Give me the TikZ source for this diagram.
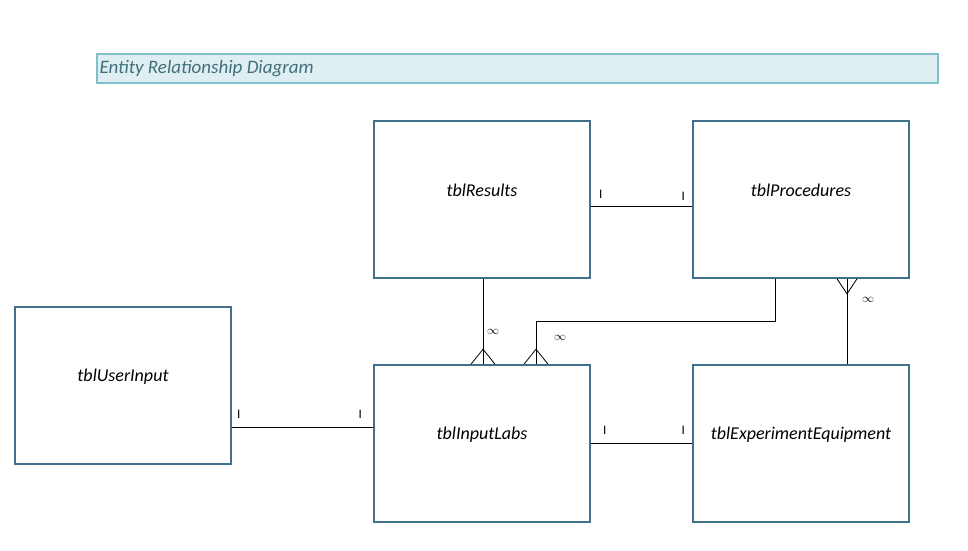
\documentclass[tikz,border=0pt]{standalone}
\usepackage{fontspec}
\setmainfont{Carlito}
\usetikzlibrary{positioning,calc}
\usepackage{xcolor}
\definecolor{entityblue}{RGB}{65,112,140}
\definecolor{titlefill}{RGB}{222,238,242}
\definecolor{titleline}{RGB}{127,192,203}
\definecolor{titletext}{RGB}{65,112,122}

\begin{document}
\begin{tikzpicture}[
    x=1pt, y=-1pt,
    entity/.style={rectangle, draw=entityblue, line width=1.6pt, minimum width=216pt, minimum height=157pt, inner sep=0pt},
    entlabel/.style={font=\fontsize{18}{21}\selectfont\itshape},
    conn/.style={black, line width=0.8pt},
    onemark/.style={font=\fontsize{13}{15}\selectfont, inner sep=0pt},
    manymark/.style={font=\fontsize{12.5}{14}\selectfont, inner sep=0pt}
]
\useasboundingbox (0,0) rectangle (968,550);

% Title bar
\node (title) [rectangle, draw=titleline, fill=titlefill, line width=1.4pt, minimum width=841pt, minimum height=29pt, inner sep=0pt] at (517.5,68.5) {};
\node[anchor=west, text=titletext, font=\fontsize{19}{22}\selectfont\itshape, inner sep=0pt] at ($(title.west)+(3,0)$) {Entity Relationship Diagram};

% Entities
\node (results) [entity] at (482,199.5) {};
\node[entlabel] at ($(results.center)+(0,-9)$) {tblResults};
\node (procedures) [entity] at (801,199.5) {};
\node[entlabel] at ($(procedures.center)+(0,-9)$) {tblProcedures};
\node (userinput) [entity] at (123,385.5) {};
\node[entlabel] at ($(userinput.center)+(0,-9)$) {tblUserInput};
\node (inputlabs) [entity] at (482,443.5) {};
\node[entlabel] at ($(inputlabs.center)+(0,-9)$) {tblInputLabs};
\node (equipment) [entity] at (801,443.5) {};
\node[entlabel] at ($(equipment.center)+(0,-9)$) {tblExperimentEquipment};

% One to one
\coordinate (rp) at ($(results.east)+(0,6.5)$);
\draw[conn] (rp) -- (rp -| procedures.west);
\node[onemark] at ($(results.east)+(10,-5)$) {I};
\node[onemark] at ($(procedures.west)+(-9,-3)$) {I};

\coordinate (ul) at ($(userinput.east)+(0,41.5)$);
\draw[conn] (ul) -- (ul -| inputlabs.west);
\node[onemark] at ($(userinput.east)+(7,29)$) {I};
\node[onemark] at ($(inputlabs.west)+(-13,-29.5)$) {I};

\draw[conn] (inputlabs.east) -- (equipment.west);
\node[onemark] at ($(inputlabs.east)+(14,-13)$) {I};
\node[onemark] at ($(equipment.west)+(-9,-13)$) {I};

% One to many
\coordinate (rl) at ($(inputlabs.north)+(1,0)$);
\draw[conn] (results.south -| rl) -- (rl);
\draw[conn] ($(rl)+(-12,0)$) -- ($(rl)+(0,-15)$) -- ($(rl)+(12,0)$);
\node[manymark] at ($(rl)+(10,-32)$) {$\infty$};

\coordinate (pl) at ($(inputlabs.north)+(54,0)$);
\draw[conn] ($(procedures.south)+(-26,0)$) |- ($(pl)+(0,-43)$) -- (pl);
\draw[conn] ($(pl)+(-12,0)$) -- ($(pl)+(0,-15)$) -- ($(pl)+(12,0)$);
\node[manymark] at ($(pl)+(24,-26)$) {$\infty$};

\coordinate (ep) at ($(procedures.south)+(46,0)$);
\draw[conn] (equipment.north -| ep) -- (ep);
\draw[conn] ($(ep)+(-10,0)$) -- ($(ep)+(0,15)$) -- ($(ep)+(10,0)$);
\node[manymark] at ($(ep)+(21,21)$) {$\infty$};

\end{tikzpicture}
\end{document}
